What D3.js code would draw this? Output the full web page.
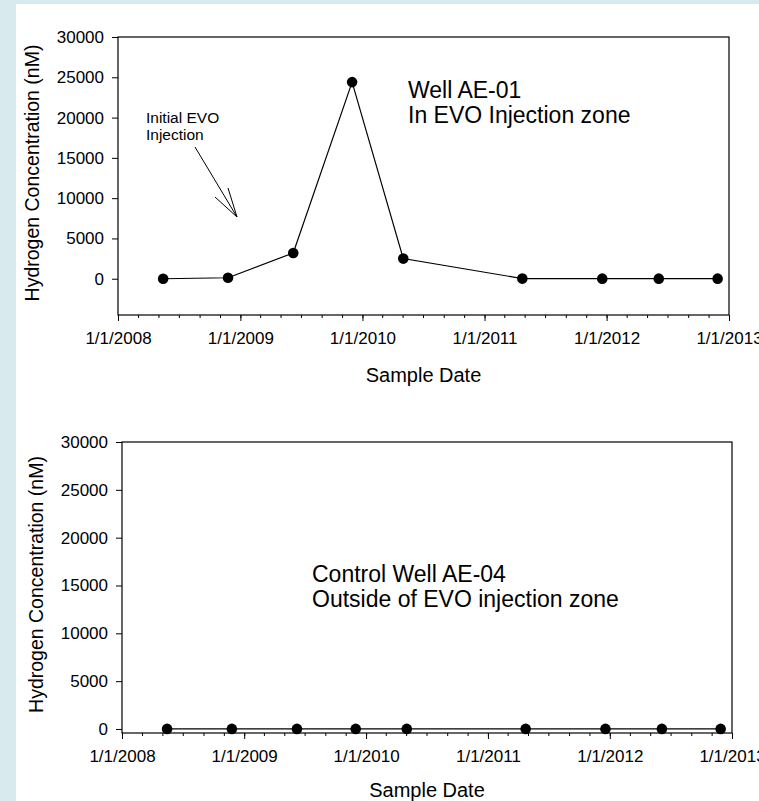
<!DOCTYPE html>
<html>
<head>
<meta charset="utf-8">
<script src="https://cdn.jsdelivr.net/npm/d3@7"></script>
<style>
  body { margin: 0; background: #d9eaee; }
  text { font-family: "Liberation Sans", Arial, sans-serif; fill: #000; }
</style>
</head>
<body>
<script>
// sample dates (same for both wells)
var sampleDates = ["2008-05-15", "2008-11-25", "2009-06-08", "2009-12-01", "2010-05-03",
                   "2011-04-24", "2011-12-19", "2012-06-05", "2012-11-28"];
// hydrogen concentration, nM
var ae01Values = [0, 120, 3200, 24400, 2500, 20, 10, 10, 10];
var ae04Values = [10, 10, 10, 10, 10, 10, 10, 10, 10];
var yTicks = [0, 5000, 10000, 15000, 20000, 25000, 30000];
var xRange = ["2008-01-01", "2013-01-01"];

var parse = d3.utcParse("%Y-%m-%d");
var fmt = d3.utcFormat("%-m/%-d/%Y");

var svg = d3.select("body").append("svg")
    .attr("width", 759)
    .attr("height", 801)
    .style("display", "block");

// white page area, blue band left and top
svg.append("rect").attr("x", 16).attr("y", 4).attr("width", 743).attr("height", 797).attr("fill", "#fff");

function drawPanel(box, values, yMin, titleGap, notes) {
    var x = d3.scaleUtc()
        .domain(xRange.map(parse))
        .range([box.left, box.right]);
    var y = d3.scaleLinear()
        .domain([yMin, 30000])
        .range([box.bottom, box.top]);

    var g = svg.append("g");

    // minor ticks every 2 months
    var minor = g.append("g")
        .attr("transform", "translate(0," + box.bottom + ")")
        .call(d3.axisBottom(x).ticks(d3.utcMonth.every(2)).tickSize(3).tickFormat(""));
    minor.select(".domain").remove();

    var xAxis = g.append("g")
        .attr("transform", "translate(0," + box.bottom + ")")
        .call(d3.axisBottom(x).ticks(d3.utcYear.every(1)).tickSize(6).tickPadding(11).tickFormat(fmt));
    xAxis.select(".domain").remove();
    xAxis.selectAll("text").style("font-size", "17px");

    var yAxis = g.append("g")
        .attr("transform", "translate(" + box.left + ",0)")
        .call(d3.axisLeft(y).tickValues(yTicks).tickSize(6).tickPadding(8).tickFormat(d3.format("d")));
    yAxis.select(".domain").remove();
    yAxis.selectAll("text").style("font-size", "17px");

    g.selectAll(".tick line").attr("stroke", "#000");

    // frame
    g.append("rect")
        .attr("x", box.left).attr("y", box.top)
        .attr("width", box.right - box.left).attr("height", box.bottom - box.top)
        .attr("fill", "none").attr("stroke", "#000").attr("stroke-width", 1.2);

    var pts = sampleDates.map(function (d, i) { return [parse(d), values[i]]; });

    g.append("path")
        .datum(pts)
        .attr("fill", "none")
        .attr("stroke", "#000")
        .attr("stroke-width", 1.2)
        .attr("d", d3.line()
            .x(function (d) { return x(d[0]); })
            .y(function (d) { return y(d[1]); }));

    g.selectAll("circle.pt").data(pts).enter().append("circle")
        .attr("class", "pt")
        .attr("r", 5.3)
        .attr("cx", function (d) { return x(d[0]); })
        .attr("cy", function (d) { return y(d[1]); })
        .attr("fill", "#000");

    // axis titles
    g.append("text")
        .attr("transform", "translate(" + (box.left - 79) + "," + ((box.top + box.bottom) / 2 - 3) + ") rotate(-90)")
        .attr("text-anchor", "middle")
        .style("font-size", "19.5px")
        .text("Hydrogen Concentration (nM)");

    g.append("text")
        .attr("x", (box.left + box.right) / 2)
        .attr("y", box.bottom + titleGap)
        .attr("text-anchor", "middle")
        .style("font-size", "20px")
        .text("Sample Date");

    notes.forEach(function (n) {
        g.append("text")
            .attr("x", n.x).attr("y", n.y)
            .style("font-size", n.size + "px")
            .text(n.text);
    });
    return g;
}

var top1 = drawPanel({left: 118, right: 729, top: 37, bottom: 315}, ae01Values, -4500, 67, [
    {x: 408, y: 98, size: 23, text: "Well AE-01"},
    {x: 408, y: 123, size: 23, text: "In EVO Injection zone"},
    {x: 146, y: 123, size: 15.5, text: "Initial EVO"},
    {x: 146, y: 140, size: 15.5, text: "Injection"}
]);

// arrow for initial injection
top1.append("path")
    .attr("d", "M195,147L237,217M215,197L237,217L228,188")
    .attr("fill", "none")
    .attr("stroke", "#000")
    .attr("stroke-width", 1);

drawPanel({left: 122, right: 732, top: 442, bottom: 733}, ae04Values, -420, 64, [
    {x: 312, y: 582, size: 23, text: "Control Well AE-04"},
    {x: 312, y: 607, size: 23, text: "Outside of EVO injection zone"}
]);
</script>
</body>
</html>
